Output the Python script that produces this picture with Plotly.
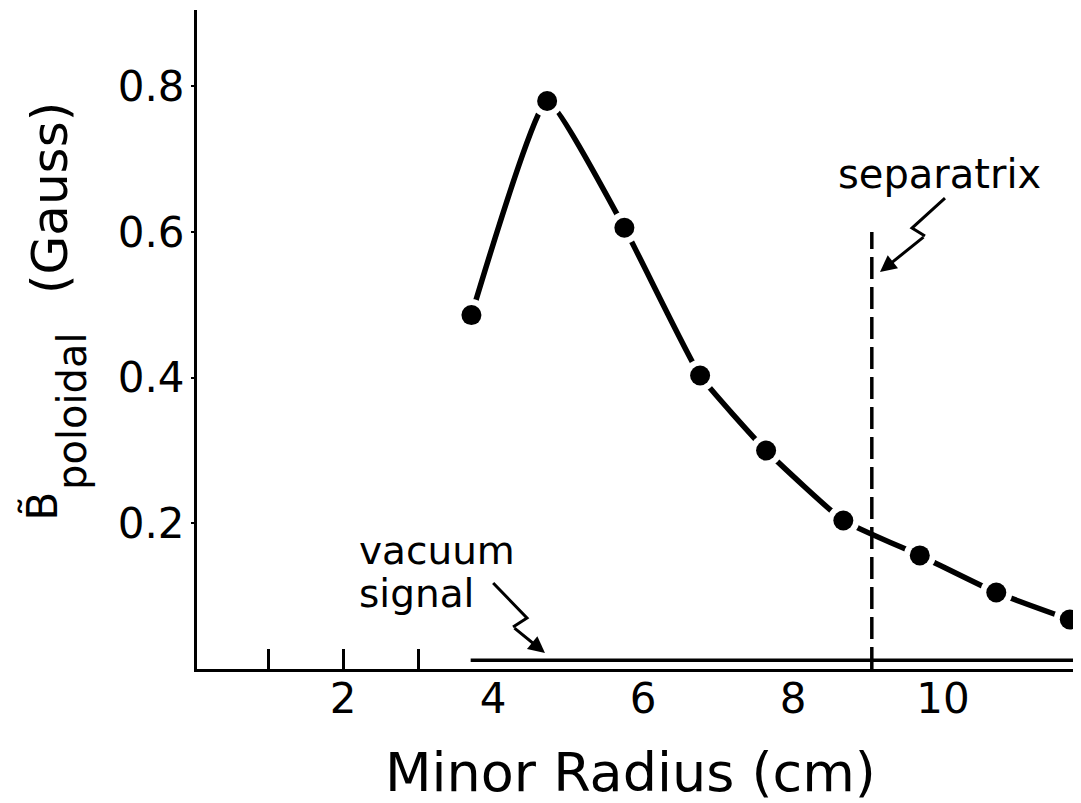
import plotly.graph_objects as go

# data
radius_cm = [3.71, 4.72, 5.75, 6.76, 7.64, 8.67, 9.69, 10.71, 11.69]
b_pol = [0.486, 0.78, 0.606, 0.403, 0.300, 0.204, 0.156, 0.105, 0.068]
vacuum_x = [3.7, 11.76]
vacuum_y = [0.012, 0.012]
separatrix_x = [9.05, 9.05]
separatrix_y = [0.0, 0.60]
x_tick_vals = [2, 4, 6, 8, 10]
x_tick_text = ["2", "4", "6", "8", "10"]
x_minor_ticks = [1, 2, 3]
y_tick_vals = [0.2, 0.4, 0.6, 0.8]
y_tick_text = ["0.2", "0.4", "0.6", "0.8"]

FONT = "DejaVu Sans"
X_RANGE = [0.05, 11.8]
Y_RANGE = [0, 0.905]

fig = go.Figure()

fig.add_trace(go.Scatter(
    x=radius_cm, y=b_pol, mode="lines",
    line=dict(color="black", width=5.5, shape="spline", smoothing=0.4),
    hoverinfo="skip", showlegend=False, cliponaxis=False))

fig.add_trace(go.Scatter(
    x=separatrix_x, y=separatrix_y, mode="lines",
    line=dict(color="black", width=3.5, dash="22px,8px"),
    showlegend=False, cliponaxis=False))

fig.add_trace(go.Scatter(
    x=radius_cm, y=b_pol, mode="markers",
    marker=dict(color="white", size=32, line=dict(width=0)),
    showlegend=False, cliponaxis=False))

fig.add_trace(go.Scatter(
    x=radius_cm, y=b_pol, mode="markers",
    marker=dict(color="black", size=20, line=dict(width=0)),
    showlegend=False, cliponaxis=False))

fig.add_trace(go.Scatter(
    x=vacuum_x, y=vacuum_y, mode="lines", xaxis="x2",
    line=dict(color="black", width=3.5),
    showlegend=False, cliponaxis=False))

annots = [
    # axis titles
    dict(x=0.4926, y=-0.1578, xref="paper", yref="paper", text="Minor Radius (cm)",
         showarrow=False, font=dict(size=54, family=FONT), xanchor="center", yanchor="middle"),
    dict(x=-0.1669, y=0.7147, xref="paper", yref="paper", text="(Gauss)", textangle=-90,
         showarrow=False, font=dict(size=50, family=FONT), xanchor="center", yanchor="middle"),
    dict(x=-0.1419, y=0.3915, xref="paper", yref="paper", text="poloidal", textangle=-90,
         showarrow=False, font=dict(size=40, family=FONT), xanchor="center", yanchor="middle"),
    dict(x=-0.1754, y=0.2473, xref="paper", yref="paper", text="B\u0303", textangle=-90,
         showarrow=False, font=dict(size=42, family=FONT), xanchor="center", yanchor="middle"),
    # separatrix label and arrow head
    dict(x=9.95, y=0.680, xref="x", yref="y", text="separatrix", showarrow=False,
         font=dict(size=40, family=FONT), xanchor="center", yanchor="middle"),
    dict(x=9.159, y=0.5452, xref="x", yref="y", text="", showarrow=True,
         arrowhead=2, arrowsize=1.1, arrowwidth=3, arrowcolor="black",
         ax=45, ay=-36),
    # vacuum signal label and arrow head
    dict(x=2.18, y=0.1625, xref="x", yref="y", text="vacuum", showarrow=False,
         font=dict(size=39, family=FONT), xanchor="left", yanchor="middle"),
    dict(x=2.18, y=0.1035, xref="x", yref="y", text="signal", showarrow=False,
         font=dict(size=39, family=FONT), xanchor="left", yanchor="middle"),
    dict(x=4.691, y=0.022, xref="x", yref="y", text="", showarrow=True,
         arrowhead=2, arrowsize=1.1, arrowwidth=3, arrowcolor="black",
         ax=-32, ay=-26),
]

# zig-zag tails of the two pointer arrows
shapes = [
    dict(type="path", xref="x", yref="y",
         path="M 10.026,0.6468 L 9.586,0.6056 L 9.759,0.5946",
         line=dict(color="black", width=3)),
    dict(type="path", xref="x", yref="y",
         path="M 4.0,0.1181 L 4.451,0.070 L 4.265,0.0577",
         line=dict(color="black", width=3)),
]

fig.update_layout(
    width=1073, height=795,
    margin=dict(l=189, r=3, t=2, b=134),
    paper_bgcolor="white", plot_bgcolor="white",
    font=dict(family=FONT, color="black"),
    xaxis=dict(
        range=X_RANGE, tickvals=x_tick_vals, ticktext=x_tick_text,
        ticks="", showgrid=False, zeroline=False, automargin=False,
        showline=True, linecolor="black", linewidth=3,
        tickfont=dict(size=42, family=FONT), ticklabelstandoff=-9,
    ),
    xaxis2=dict(
        range=X_RANGE, overlaying="x", anchor="y",
        tickvals=x_minor_ticks, ticks="inside", ticklen=20, tickwidth=3,
        tickcolor="black", showticklabels=False, showgrid=False,
        zeroline=False, showline=False, automargin=False,
    ),
    yaxis=dict(
        range=Y_RANGE, tickvals=y_tick_vals, ticktext=y_tick_text,
        ticks="outside", ticklen=3, tickwidth=2, tickcolor="black",
        showgrid=False, zeroline=False, automargin=False,
        showline=True, linecolor="black", linewidth=3,
        tickfont=dict(size=42, family=FONT), ticklabelstandoff=-2,
    ),
    annotations=annots,
    shapes=shapes,
)

fig.write_html("out.html")
